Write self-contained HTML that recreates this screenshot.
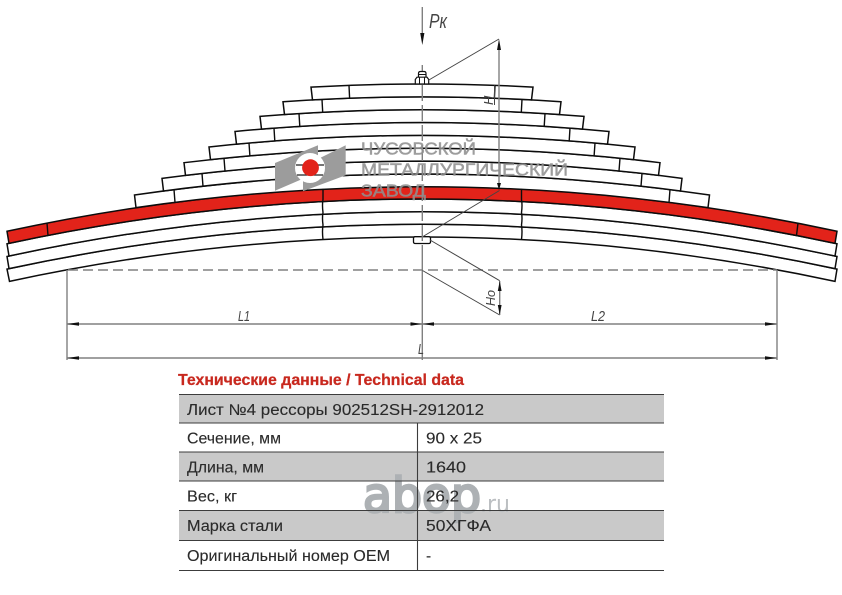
<!DOCTYPE html>
<html lang="ru">
<head>
<meta charset="utf-8">
<title>Лист №4 рессоры</title>
<style>
html,body{margin:0;padding:0;background:#fff}
svg{display:block}
.leaf{fill:#fff;stroke:#0c0c0c;stroke-width:1.5;stroke-linejoin:miter}
.red{fill:#e2231a;stroke:#0c0c0c;stroke-width:1.5}
.tick{stroke:#0c0c0c;stroke-width:1.4;fill:none}
.g{stroke:#808080;stroke-width:1.4;fill:none}
.dk{stroke:#444;stroke-width:1;fill:none}
.lbl{font-family:"Liberation Sans",sans-serif;font-style:italic;fill:#444}
.t{font-family:"Liberation Sans","Noto Sans CJK SC",sans-serif;font-size:15.5px;fill:#2a2a2a;stroke:#2a2a2a;stroke-width:.12}
.logo{font-family:"Liberation Sans","Noto Sans CJK SC",sans-serif;font-size:17.5px;fill:#909090;stroke:#909090;stroke-width:.5;opacity:.88}
</style>
</head>
<body>
<svg width="842" height="595" viewBox="0 0 842 595" xmlns="http://www.w3.org/2000/svg">
<rect width="842" height="595" fill="#fff"/>

<!-- lower leaves -->
<path class="leaf" d="M7 269.08Q422 179.52 837 269.08L835 281.35Q422 192.65 9.5 281.35Z"/>
<path class="leaf" d="M7 256.48Q422 166.92 837 256.48L835 268.65Q422 179.95 9 268.65Z"/>
<path class="leaf" d="M7 243.78Q422 154.22 837 243.78L835 256.05Q422 167.35 9 256.05Z"/>
<path class="red" d="M7 231.28Q422 141.72 837 231.28L835 243.35Q422 154.65 9 243.35Z"/>
<path class="tick" d="M47 223L48 235.6M798 223L796.5 235.6"/>

<!-- upper leaves -->
<path class="leaf" d="M134.5 195.03Q422 152.87 709.5 195.03L708 207.66Q422 165.94 136 207.66Z"/>
<path class="leaf" d="M162 178.34Q422 143.86 682 178.34L680.5 190.99Q422 156.91 163.5 190.99Z"/>
<path class="leaf" d="M184 162.69Q422 133.81 660 162.69L658.5 175.36Q422 146.84 185.5 175.36Z"/>
<path class="leaf" d="M209 146.97Q422 123.83 635 146.97L633.5 159.66Q422 136.84 210.5 159.66Z"/>
<path class="leaf" d="M235 131.47Q422 113.63 609 131.47L607.5 144.17Q422 126.63 236.5 144.17Z"/>
<path class="leaf" d="M260 116.39Q422 103.01 584 116.39L582.5 129.12Q422 115.98 261.5 129.12Z"/>
<path class="leaf" d="M283 101.78Q422 91.92 561 101.78L559.5 114.52Q422 104.88 284.5 114.52Z"/>
<path class="leaf" d="M311 87.14Q422 80.86 533 87.14L531.5 99.91Q422 93.79 312.5 99.91Z"/>
<path class="tick" d="M349 85.4L349.6 98.2M495 85.4L494.4 98.2M322 99.4L322.7 112.3M522 99.4L521.3 112.3M299 113.6L299.8 126.4M545 113.6L544.2 126.4M274 128.1L274.8 141M570 128.1L569.2 141M249 143L249.9 155.9M595 143L594.1 155.9M224 158.2L225 171.1M620 158.2L619 171.1M202 173.4L203 186.3M642 173.4L641 186.3M174 189.6L175 202.5M670 189.6L669 202.5"/>

<!-- clamps -->
<path class="tick" d="M323 188.9V199.5Q322 205 323 212.5Q322 218 323 225Q322 231 323 239.6M521.5 188.9V199.5Q522.5 205 521.5 212.5Q522.5 218 521.5 225Q522.5 231 521.5 239.6"/>
<rect x="413.5" y="236.7" width="17" height="6.8" rx="1.5" fill="#fff" stroke="#0c0c0c" stroke-width="1.3"/>

<!-- logo -->
<polygon points="275,163 318,145.3 318,155 300,180 275,190.7" fill="#9c9c9c"/>
<polygon points="345.7,145.3 345.7,175.3 303,191.3 303,180 320,158" fill="#9c9c9c"/>
<circle cx="310" cy="168" r="15" fill="#fff"/>
<path d="M296 165H324M297 175H323" stroke="#222" stroke-width="1.2" fill="none"/>
<circle cx="310.5" cy="167.7" r="8.4" fill="#e2231a"/>

<!-- centre line -->
<path class="g" d="M422.3 7V34"/>
<path class="g" stroke-dasharray="16 4" d="M422.3 65V253"/>
<path class="g" d="M422.3 253V360"/>
<polygon points="420.2,33 424.4,33 422.3,45" fill="#111"/>

<!-- bolt -->
<path d="M418.5 77V73.5Q418.5 71.5 420.5 71.5H424Q426 71.5 426 73.5V77" fill="#fff" stroke="#111" stroke-width="1.2"/>
<path d="M415.3 84V79.5L417 77.2H427L428.7 79.5V84Z" fill="#fff" stroke="#111" stroke-width="1.2"/>
<path d="M419.5 77.2V84M424.5 77.2V84M418.5 74.5H426" stroke="#111" stroke-width="1" fill="none"/>

<!-- H dim -->
<path class="g" d="M499 49V184"/>
<polygon points="497,50 501,50 499,39" fill="#111"/>
<polygon points="497,183 501,183 499,190" fill="#111"/>
<path class="dk" d="M428 80.5L499 39M499.5 190.5L423 236.5"/>
<path class="g" d="M494.5 85.5V105" style="stroke:#444;stroke-width:1"/>
<text class="lbl" font-size="13" transform="translate(493 105) rotate(-90)">H</text>

<!-- base line -->
<path class="g" stroke-dasharray="10 5" d="M68 270H777"/>
<path class="g" d="M67 270V360M777 270V360"/>

<!-- Ho dim -->
<path class="dk" d="M430 240L499.7 280.7M422.5 270.5L499.7 315"/>
<path class="g" d="M499.7 281V315"/>
<polygon points="497.8,291 501.6,291 499.7,281" fill="#111"/>
<polygon points="497.8,305 501.6,305 499.7,315" fill="#111"/>
<text class="lbl" font-size="13" transform="translate(495 306) rotate(-90)" textLength="16" lengthAdjust="spacingAndGlyphs">Ho</text>

<!-- L dims -->
<path class="g" d="M67 324H777M67 358H777"/>
<path d="M67 324L79 322.2V325.8ZM422 324L410.5 322.2V325.8ZM422.5 324L434 322.2V325.8ZM777 324L765 322.2V325.8ZM67 358L79 356.2V359.8ZM777 358L765 356.2V359.8Z" fill="#111"/>
<text class="lbl" font-size="15" x="238" y="321" textLength="12" lengthAdjust="spacingAndGlyphs">L1</text>
<text class="lbl" font-size="15" x="591" y="321" textLength="14" lengthAdjust="spacingAndGlyphs">L2</text>
<text class="lbl" font-size="15" x="418" y="354" textLength="6" lengthAdjust="spacingAndGlyphs">L</text>
<text class="lbl" font-size="20" x="429" y="28" textLength="18" lengthAdjust="spacingAndGlyphs">Pк</text>

<!-- logo text -->
<text class="logo" x="361" y="154.5" textLength="115" lengthAdjust="spacingAndGlyphs">ЧУСОВСКОЙ</text>
<text class="logo" x="361" y="175.5" textLength="207" lengthAdjust="spacingAndGlyphs">МЕТАЛЛУРГИЧЕСКИЙ</text>
<text class="logo" x="361" y="196.5" textLength="65" lengthAdjust="spacingAndGlyphs">ЗАВОД</text>

<!-- table -->
<text x="178" y="385" font-family="'Liberation Sans','Noto Sans CJK SC',sans-serif" font-size="16" font-weight="bold" fill="#c8281e" stroke="#c8281e" stroke-width=".25" textLength="286" lengthAdjust="spacingAndGlyphs">Технические данные / Technical data</text>
<rect x="179" y="394.5" width="485" height="28.5" fill="#c9c9c9"/>
<rect x="179" y="452" width="485" height="29" fill="#c9c9c9"/>
<rect x="179" y="510.5" width="485" height="30" fill="#c9c9c9"/>

<!-- watermark -->
<text x="363" y="512" font-family="'DejaVu Sans',sans-serif" font-size="48" fill="#adb1b4" stroke="#adb1b4" stroke-width="2.6" textLength="118" lengthAdjust="spacingAndGlyphs">abop</text>
<text x="480" y="512" font-family="'DejaVu Sans',sans-serif" font-size="24" fill="#bcbfc2" textLength="30" lengthAdjust="spacingAndGlyphs">.ru</text>

<path d="M179 394.5H664M179 423H664M179 452H664M179 481H664M179 510.5H664M179 540.5H664M179 570.5H664M417.5 423V570.5" stroke="#3c3c3c" stroke-width="1.1" fill="none"/>
<text class="t" x="187" y="415" textLength="297" lengthAdjust="spacingAndGlyphs">Лист №4 рессоры 902512SH-2912012</text>
<text class="t" x="187" y="443.5" textLength="94" lengthAdjust="spacingAndGlyphs">Сечение, мм</text>
<text class="t" x="426" y="443.5" textLength="56" lengthAdjust="spacingAndGlyphs">90 x 25</text>
<text class="t" x="187" y="472.5" textLength="77" lengthAdjust="spacingAndGlyphs">Длина, мм</text>
<text class="t" x="426" y="472.5" textLength="40" lengthAdjust="spacingAndGlyphs">1640</text>
<text class="t" x="187" y="501.5" textLength="50" lengthAdjust="spacingAndGlyphs">Вес, кг</text>
<text class="t" x="426" y="501.5" textLength="33" lengthAdjust="spacingAndGlyphs">26,2</text>
<text class="t" x="187" y="531" textLength="96" lengthAdjust="spacingAndGlyphs">Марка стали</text>
<text class="t" x="426" y="531" textLength="65" lengthAdjust="spacingAndGlyphs">50ХГФА</text>
<text class="t" x="187" y="561" textLength="203" lengthAdjust="spacingAndGlyphs">Оригинальный номер OEM</text>
<text class="t" x="426" y="561">-</text>
</svg>
</body>
</html>
